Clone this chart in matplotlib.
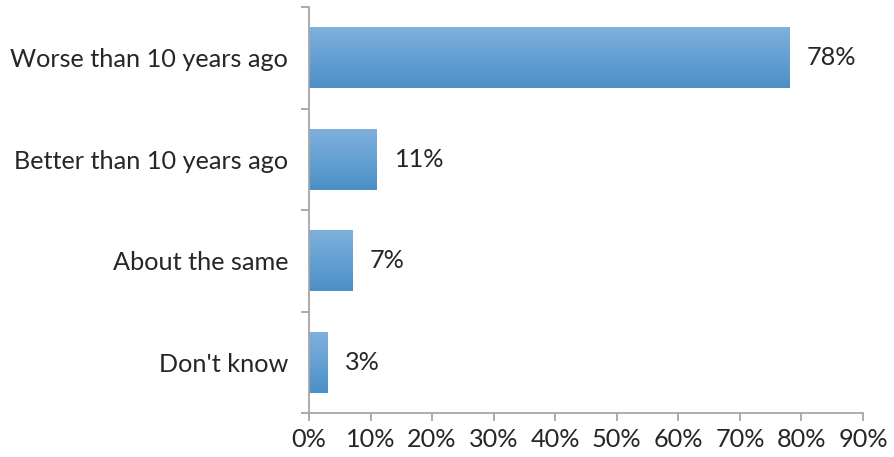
import numpy as np
import matplotlib.pyplot as plt
from matplotlib.colors import LinearSegmentedColormap

categories = ["Don't know", "About the same", "Better than 10 years ago", "Worse than 10 years ago"]
values = [3, 7, 11, 78]
xticks = [0, 10, 20, 30, 40, 50, 60, 70, 80, 90]

plt.rcParams['font.family'] = ['Lato', 'DejaVu Sans']

fig = plt.figure(figsize=(8.95, 4.57), dpi=100)
ax = fig.add_axes([309 / 895, 1 - 413 / 457, (863 - 309) / 895, (413 - 7) / 457])

axis_color = '#A6A6A6'
text_color = '#262626'
fs = 18.2
cmap = LinearSegmentedColormap.from_list('bar', ['#4A8FC7', '#80B1DE'])
grad = np.linspace(0, 1, 256).reshape(-1, 1)
bar_h = 0.6

for i, v in enumerate(values):
    ax.imshow(grad, cmap=cmap, aspect='auto', origin='lower',
              extent=[0, v, i - bar_h / 2, i + bar_h / 2], zorder=2)
    ax.text(v + 2.9, i, f"{v}%", va='center', ha='left', fontsize=fs, color=text_color)

ax.set_xlim(0, 90)
ax.set_ylim(-0.5, len(categories) - 0.5)
ax.set_xticks(xticks)
ax.set_xticklabels([f"{t}%" for t in xticks], fontsize=fs, color=text_color)
ax.set_yticks(range(len(categories)))
ax.set_yticklabels(categories, fontsize=fs, color=text_color)
ax.set_yticks(np.arange(-0.5, len(categories)), minor=True)

ax.tick_params(axis='y', which='major', length=0, pad=15)
ax.tick_params(axis='y', which='minor', length=6, color=axis_color, width=1.3, direction='out')
ax.tick_params(axis='x', length=6, color=axis_color, width=1.3, direction='out', pad=5)

for side in ['top', 'right']:
    ax.spines[side].set_visible(False)
for side in ['left', 'bottom']:
    ax.spines[side].set_color(axis_color)
    ax.spines[side].set_linewidth(1.3)

fig.savefig('out.png', dpi=100)
